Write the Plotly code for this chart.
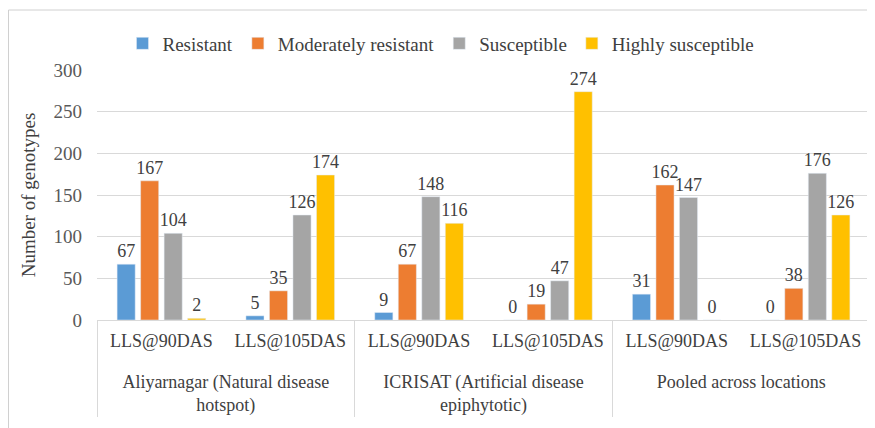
import plotly.graph_objects as go

groups = ["<br>Aliyarnagar (Natural disease<br>hotspot)"] * 2 + ["<br>ICRISAT (Artificial disease<br>epiphytotic)"] * 2 + ["<br>Pooled across locations"] * 2
stages = ["LLS@90DAS", "LLS@105DAS"] * 3

resistant = [67, 5, 9, 0, 31, 0]
moderately_resistant = [167, 35, 67, 19, 162, 38]
susceptible = [104, 126, 148, 47, 147, 176]
highly_susceptible = [2, 174, 116, 274, 0, 126]

series = [
    ("Resistant", resistant, "#5B9BD5"),
    ("Moderately resistant", moderately_resistant, "#ED7D31"),
    ("Susceptible", susceptible, "#A5A5A5"),
    ("Highly susceptible", highly_susceptible, "#FFC000"),
]

font = "Liberation Serif"
fig = go.Figure()
for name, vals, col in series:
    fig.add_trace(go.Bar(
        x=[groups, stages], y=vals, name=name, marker_color=col,
        text=[str(v) for v in vals], textposition="outside",
        textfont=dict(family=font, size=18, color="#404040"),
        constraintext="none", cliponaxis=False,
    ))

fig.update_layout(
    width=875, height=428,
    margin=dict(l=89, r=13, t=62, b=116),
    paper_bgcolor="white", plot_bgcolor="white",
    barmode="group", bargap=0.27, bargroupgap=0.23,
    font=dict(family=font, size=18, color="#404040"),
    legend=dict(orientation="h", x=0.445, xanchor="center", y=1.03, yanchor="bottom",
                font=dict(family=font, size=19, color="#404040"),
                itemwidth=30, traceorder="normal"),
    yaxis=dict(range=[0, 300], dtick=50, showgrid=True, gridcolor="#D9D9D9",
               zeroline=False, showline=False, ticks="", automargin=False,
               ticklabelstandoff=14,
               tickfont=dict(family=font, size=19, color="#595959"),
               title=dict(text="Number of genotypes", font=dict(family=font, size=19, color="#404040"),
                          standoff=12)),
    xaxis=dict(type="multicategory", showline=True, linecolor="#D9D9D9", automargin=False,
               showdividers=True, dividercolor="#D9D9D9", dividerwidth=1,
               ticklabelstandoff=4,
               tickfont=dict(family=font, size=18, color="#404040")),
    shapes=[dict(type="rect", xref="paper", yref="paper",
                 x0=(0.5 - 89) / 773, x1=(880 - 89) / 773,
                 y0=(312 - 440) / 250, y1=(312 - 2) / 250,
                 line=dict(color="#D0D0D0", width=1))],
)

fig.write_html("out.html")
